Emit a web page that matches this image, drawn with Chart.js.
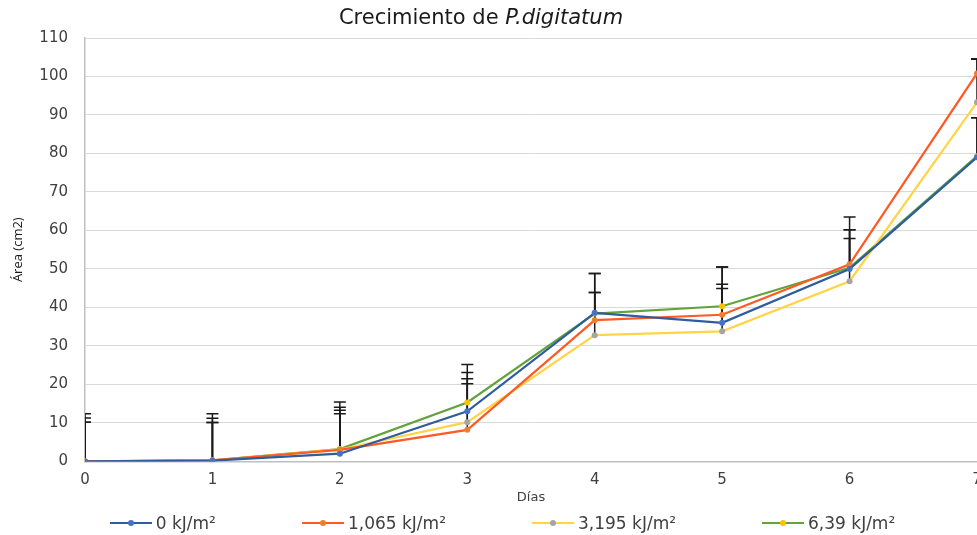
<!DOCTYPE html>
<html lang="es">
<head>
<meta charset="utf-8">
<title>Crecimiento de P.digitatum</title>
<script src="https://cdn.jsdelivr.net/npm/chart.js@4.4.1/dist/chart.umd.min.js"></script>
<style>
  html, body { margin: 0; padding: 0; background: #fff; overflow: hidden; }
  #wrap { position: relative; width: 1005px; height: 535px; }
  #legend {
    position: absolute; left: 0; top: 513px; width: 1005px;
    display: flex; justify-content: center; gap: 86px;
    font: 17px "DejaVu Sans", sans-serif; color: #404040;
  }
  .item { display: flex; align-items: center; }
  .swatch { position: relative; width: 42px; height: 2px; margin-right: 4px; }
  .swatch i { position: absolute; left: 18px; top: -2px; width: 6px; height: 6px; border-radius: 50%; }
</style>
</head>
<body>
<div id="wrap">
  <canvas id="growthChart" width="1005" height="535"></canvas>
  <div id="legend"></div>
</div>
<script>
// Datos (área en cm2 por día)
const days = [0, 1, 2, 3, 4, 5, 6, 7];
const seriesNames = ['0 kJ/m²', '1,065 kJ/m²', '3,195 kJ/m²', '6,39 kJ/m²'];

const area0 = [0, 0.2, 2.0, 13.0, 38.6, 36.0, 50.0, 79.0];
const area1065 = [0, 0.3, 3.0, 8.2, 36.7, 38.1, 51.2, 100.8];
const area3195 = [0, 0.2, 3.1, 10.2, 32.8, 33.8, 46.8, 93.3];
const area639 = [0, 0.3, 3.2, 15.3, 38.4, 40.3, 50.3, 79.3];

// barras de error (solo hacia arriba)
const err0 = [12.4, 12.2, 10.4, 10.1, 10.2, 10.0, 10.2, 10.3];
const err1065 = [11.3, 10.9, 12.4, 13.3, 7.2, 12.4, 12.3, 3.8];
const err3195 = [10.2, 9.9, 10.2, 10.0, 11.1, 11.1, 11.1, 11.2];
const err639 = [10.2, 9.8, 10.9, 9.9, 10.4, 10.2, 9.9, 10.0];

const yTicks = { min: 0, max: 110, step: 10 };
const titleMain = 'Crecimiento de ';
const titleSpecies = 'P.digitatum';
const FONT = '"DejaVu Sans", sans-serif';

const toPoints = vals => days.map((d, i) => ({ x: d, y: vals[i] }));

function makeDataset(label, vals, errs, lineColor, markerColor) {
    return {
        label: label,
        data: toPoints(vals),
        errorPlus: errs,
        borderColor: lineColor,
        backgroundColor: markerColor,
        pointBackgroundColor: markerColor,
        pointBorderColor: markerColor,
        pointRadius: 3,
        pointBorderWidth: 0,
        borderWidth: 2.2,
        tension: 0
    };
}

const datasets = [
    makeDataset(seriesNames[0], area0, err0, '#2F5C9E', '#4472C4'),
    makeDataset(seriesNames[1], area1065, err1065, '#FF5A26', '#ED7D31'),
    makeDataset(seriesNames[2], area3195, err3195, '#FFD447', '#A5A5A5'),
    makeDataset(seriesNames[3], area639, err639, '#62A33A', '#FFC000')
];

// Error bars drawn under the lines
const errorBarPlugin = {
    id: 'errorBars',
    beforeDatasetsDraw(chart) {
        const { ctx, chartArea, scales: { x, y } } = chart;
        ctx.save();
        ctx.beginPath();
        ctx.rect(chartArea.left, chartArea.top, chartArea.right - chartArea.left, chartArea.bottom - chartArea.top + 1);
        ctx.clip();
        ctx.strokeStyle = '#1a1a1a';
        ctx.lineWidth = 1.5;
        chart.data.datasets.forEach(ds => {
            ds.data.forEach((p, i) => {
                const px = x.getPixelForValue(p.x);
                const y0 = y.getPixelForValue(p.y);
                const y1 = y.getPixelForValue(p.y + ds.errorPlus[i]);
                ctx.beginPath();
                ctx.moveTo(px, y0);
                ctx.lineTo(px, y1);
                ctx.moveTo(px - 6, y1);
                ctx.lineTo(px + 6, y1);
                ctx.stroke();
            });
        });
        ctx.restore();
    }
};

// Title with italic species name
const titlePlugin = {
    id: 'mixedTitle',
    afterDraw(chart) {
        const ctx = chart.ctx;
        const size = 21;
        ctx.save();
        ctx.fillStyle = '#1a1a1a';
        ctx.textBaseline = 'middle';
        ctx.font = size + 'px ' + FONT;
        const w1 = ctx.measureText(titleMain).width;
        ctx.font = 'italic ' + size + 'px ' + FONT;
        const w2 = ctx.measureText(titleSpecies).width;
        const startX = 481 - (w1 + w2) / 2;
        ctx.font = size + 'px ' + FONT;
        ctx.fillText(titleMain, startX, 19);
        ctx.font = 'italic ' + size + 'px ' + FONT;
        ctx.fillText(titleSpecies, startX + w1, 19);
        ctx.restore();
    }
};

const chart = new Chart(document.getElementById('growthChart'), {
    type: 'line',
    data: { datasets: datasets },
    options: {
        responsive: false,
        animation: false,
        layout: { padding: { top: 38, right: 28, bottom: 30, left: 0 } },
        plugins: {
            legend: { display: false },
            title: { display: false },
            tooltip: { enabled: false }
        },
        scales: {
            x: {
                type: 'linear',
                min: days[0],
                max: days[days.length - 1],
                ticks: { stepSize: 1, padding: 10, color: '#404040', font: { family: FONT, size: 15 } },
                grid: { display: false, drawTicks: false },
                border: { color: '#BFBFBF', width: 1.5 },
                title: {
                    display: true,
                    text: 'Días',
                    color: '#404040',
                    font: { family: FONT, size: 13 },
                    padding: { top: -10, bottom: 0 }
                }
            },
            y: {
                min: yTicks.min,
                max: yTicks.max,
                ticks: { stepSize: yTicks.step, padding: 17, color: '#404040', font: { family: FONT, size: 15 } },
                grid: { color: '#D9D9D9', drawTicks: false },
                border: { color: '#BFBFBF', width: 1.5 },
                title: {
                    display: true,
                    text: 'Área (cm2)',
                    color: '#1a1a1a',
                    font: { family: '"Open Sans", sans-serif', size: 13 },
                    padding: { top: 10, bottom: 0 }
                },
                afterFit(scale) { scale.width = 85; }
            }
        }
    },
    plugins: [errorBarPlugin, titlePlugin]
});

// HTML legend built from the datasets
const legendEl = document.getElementById('legend');
chart.data.datasets.forEach(ds => {
    const item = document.createElement('div');
    item.className = 'item';
    item.innerHTML = `<span class="swatch" style="background:${ds.borderColor}"><i style="background:${ds.pointBackgroundColor}"></i></span><span>${ds.label}</span>`;
    legendEl.appendChild(item);
});
</script>
</body>
</html>
